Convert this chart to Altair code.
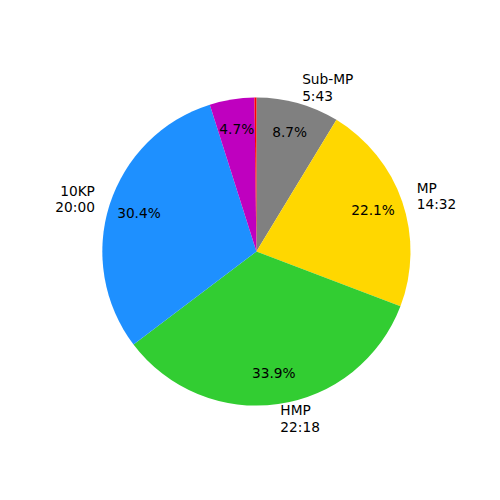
import altair as alt
import pandas as pd
import math

names = ["Sub-MP", "MP", "HMP", "10KP", "Other", "Rest"]
times = ["5:43", "14:32", "22:18", "20:00", "", ""]
seconds = [343, 872, 1338, 1200, 185, 8]
colors = ["#808080", "#FFD700", "#32CD32", "#1E90FF", "#BF00BF", "#FF0000"]
show_name = [True, True, True, True, False, False]
show_pct = [True, True, True, True, True, False]

total = sum(seconds)
rows = []
cum = 0
for i, (n, t, s) in enumerate(zip(names, times, seconds)):
    mid = (cum + s / 2) / total * 360
    cum += s
    lab = f"{n}\n{t}" if show_name[i] else ""
    left = math.sin(math.radians(mid)) >= 0
    rows.append({
        "idx": i,
        "name": n,
        "seconds": s,
        "pct": f"{100 * s / total:.1f}%" if show_pct[i] else "",
        "lab_left": lab if left else "",
        "lab_right": lab if not left else "",
    })
df = pd.DataFrame(rows)

R = 156
CX, CY = 251.5, 243.5
font = "DejaVu Sans"
fs = 13.9

base = alt.Chart(df).encode(
    theta=alt.Theta("seconds:Q", stack=True),
    order=alt.Order("idx:Q", sort="ascending"),
    x=alt.value(CX),
    y=alt.value(CY),
)

arcs = base.mark_arc(radius=R).encode(
    color=alt.Color("name:N", scale=alt.Scale(domain=names, range=colors), legend=None)
)
pct = base.mark_text(radius=0.8 * R, font=font, fontSize=fs, color="black",
                     align="center", baseline="middle").encode(text="pct:N")
labl = base.mark_text(radius=1.1 * R, font=font, fontSize=fs, color="black",
                      align="left", baseline="middle", lineBreak="\n",
                      lineHeight=16.5, dy=-8).encode(text="lab_left:N")
labr = base.mark_text(radius=1.1 * R, font=font, fontSize=fs, color="black",
                      align="right", baseline="middle", lineBreak="\n",
                      lineHeight=16.5, dy=-8).encode(text="lab_right:N")

chart = alt.layer(arcs, pct, labl, labr).properties(
    width=490, height=490,
    padding=0,
    autosize=alt.AutoSizeParams(type="none"),
).configure_view(stroke=None)

chart.save("out.html", embed_options={"renderer": "svg", "actions": False})
